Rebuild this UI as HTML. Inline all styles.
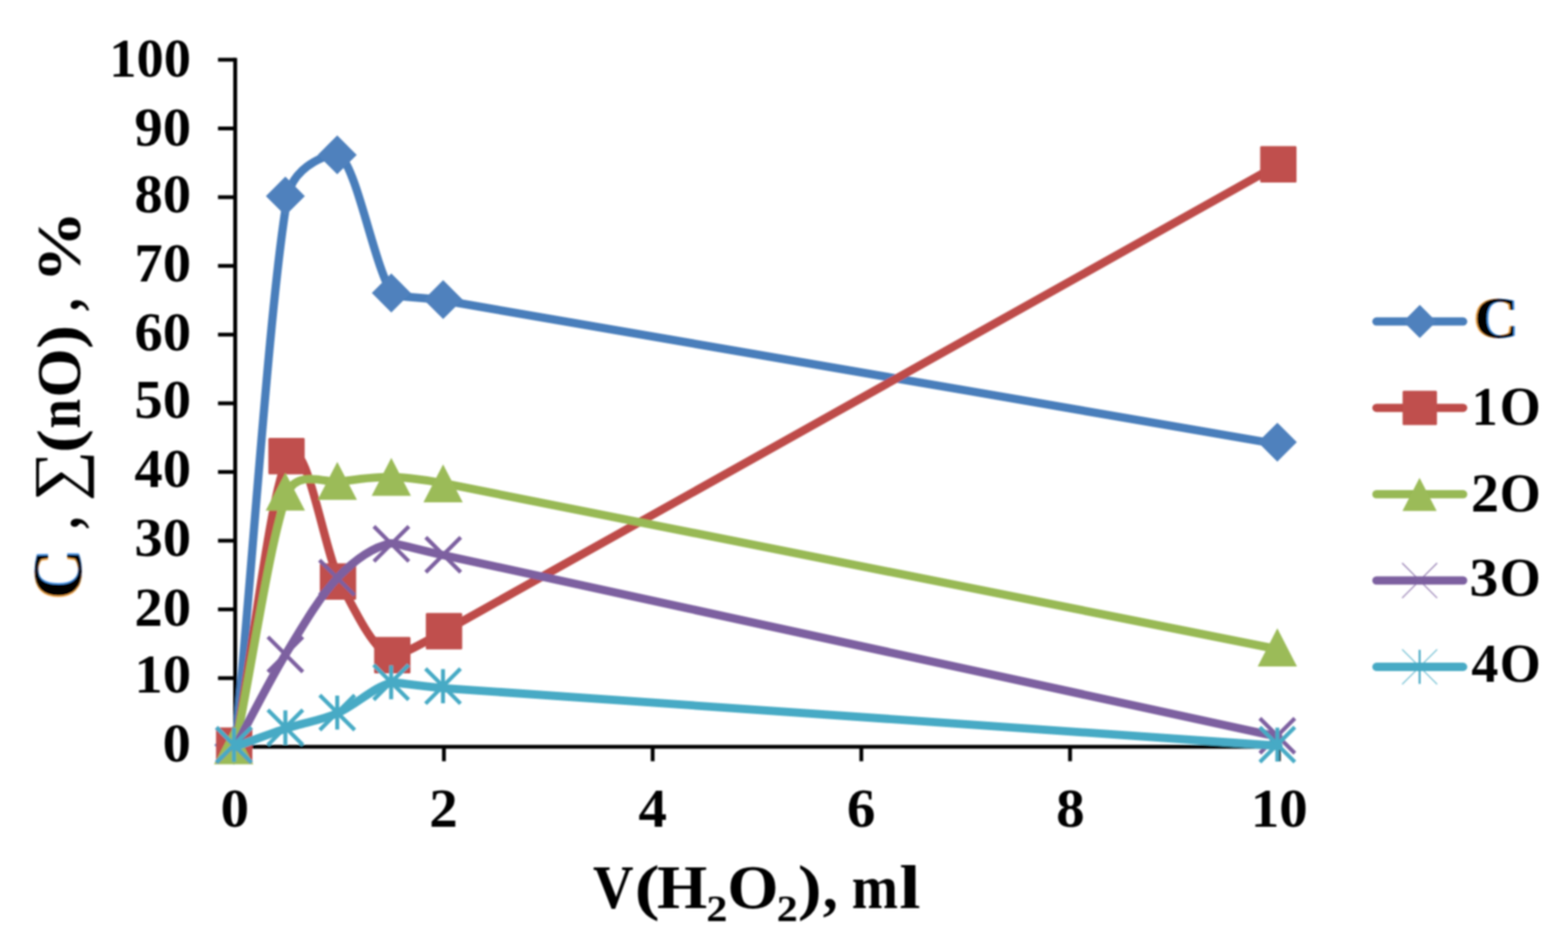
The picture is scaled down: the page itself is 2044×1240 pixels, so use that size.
<!DOCTYPE html>
<html lang="en"><head><meta charset="utf-8"><title>Chart</title>
<style>
html,body{margin:0;padding:0;background:#fff;}
body{width:2044px;height:1240px;overflow:hidden;}
svg{display:block;}
text{font-family:"Liberation Serif","DejaVu Serif",serif;font-weight:bold;fill:#000;}
.tick{font-size:71.2px;}
.leg{font-size:72px;}
</style></head><body>
<svg width="2044" height="1240" viewBox="0 0 2044 1240">
<defs><filter id="fr" x="-20%" y="-20%" width="140%" height="140%">
<feOffset in="SourceAlpha" dx="-2.2" dy="0" result="oL"/><feFlood flood-color="#f0a040" flood-opacity="0.9"/><feComposite in2="oL" operator="in" result="cL"/>
<feOffset in="SourceAlpha" dx="2.2" dy="0" result="oR"/><feFlood flood-color="#3f8fe8" flood-opacity="0.9"/><feComposite in2="oR" operator="in" result="cR"/>
<feMerge><feMergeNode in="cL"/><feMergeNode in="cR"/><feMergeNode in="SourceGraphic"/></feMerge></filter>
<filter id="soft" x="0" y="0" width="2044" height="1240" filterUnits="userSpaceOnUse"><feGaussianBlur stdDeviation="0.9"/></filter></defs>
<rect width="2044" height="1240" fill="#fff"/>
<g filter="url(#soft)">
<g stroke="#000" fill="none" stroke-linecap="butt">
<path stroke-width="5.1" d="M306.6,75.4 L306.6,976.3"/>
<path stroke-width="5.1" d="M304.1,973.8 L1669.5,973.8"/>
<path stroke-width="5.0" d="M284.2,973.8 L306.6,973.8"/>
<path stroke-width="5.0" d="M284.2,884.2 L306.6,884.2"/>
<path stroke-width="5.0" d="M284.2,794.6 L306.6,794.6"/>
<path stroke-width="5.0" d="M284.2,705.0 L306.6,705.0"/>
<path stroke-width="5.0" d="M284.2,615.4 L306.6,615.4"/>
<path stroke-width="5.0" d="M284.2,525.9 L306.6,525.9"/>
<path stroke-width="5.0" d="M284.2,436.3 L306.6,436.3"/>
<path stroke-width="5.0" d="M284.2,346.7 L306.6,346.7"/>
<path stroke-width="5.0" d="M284.2,257.1 L306.6,257.1"/>
<path stroke-width="5.0" d="M284.2,167.5 L306.6,167.5"/>
<path stroke-width="5.0" d="M284.2,77.9 L306.6,77.9"/>
<path stroke-width="5.0" d="M578.7,973.8 L578.7,992.6"/>
<path stroke-width="5.0" d="M850.8,973.8 L850.8,992.6"/>
<path stroke-width="5.0" d="M1122.8,973.8 L1122.8,992.6"/>
<path stroke-width="5.0" d="M1394.9,973.8 L1394.9,992.6"/>
<path stroke-width="5.0" d="M1667.0,973.8 L1667.0,992.6"/>
</g>
<text class="tick" x="212.1" y="992.8" textLength="36.8" lengthAdjust="spacingAndGlyphs">0</text>
<text class="tick" x="175.3" y="902.8" textLength="73.7" lengthAdjust="spacingAndGlyphs">10</text>
<text class="tick" x="175.3" y="815.7" textLength="73.7" lengthAdjust="spacingAndGlyphs">20</text>
<text class="tick" x="175.3" y="725.2" textLength="73.7" lengthAdjust="spacingAndGlyphs">30</text>
<text class="tick" x="175.3" y="635.0" textLength="73.7" lengthAdjust="spacingAndGlyphs">40</text>
<text class="tick" x="175.3" y="545.0" textLength="73.7" lengthAdjust="spacingAndGlyphs">50</text>
<text class="tick" x="175.3" y="457.2" textLength="73.7" lengthAdjust="spacingAndGlyphs">60</text>
<text class="tick" x="175.3" y="367.2" textLength="73.7" lengthAdjust="spacingAndGlyphs">70</text>
<text class="tick" x="175.3" y="277.2" textLength="73.7" lengthAdjust="spacingAndGlyphs">80</text>
<text class="tick" x="175.3" y="190.0" textLength="73.7" lengthAdjust="spacingAndGlyphs">90</text>
<text class="tick" x="142.6" y="99.9" textLength="106.3" lengthAdjust="spacingAndGlyphs">100</text>
<text class="tick" x="287.4" y="1077.8" textLength="37.2" lengthAdjust="spacingAndGlyphs">0</text>
<text class="tick" x="559.4" y="1077.8" textLength="37.2" lengthAdjust="spacingAndGlyphs">2</text>
<text class="tick" x="832.2" y="1077.8" textLength="37.2" lengthAdjust="spacingAndGlyphs">4</text>
<text class="tick" x="1104.0" y="1077.8" textLength="37.2" lengthAdjust="spacingAndGlyphs">6</text>
<text class="tick" x="1376.8" y="1077.8" textLength="37.2" lengthAdjust="spacingAndGlyphs">8</text>
<text class="tick" x="1630.4" y="1077.8" textLength="74.4" lengthAdjust="spacingAndGlyphs">10</text>
<text y="1184.2" style="font-size:80px"><tspan x="773.0" textLength="52.8" lengthAdjust="spacingAndGlyphs">V</tspan><tspan x="827.3" textLength="32.7" lengthAdjust="spacingAndGlyphs">(</tspan><tspan x="856.4" textLength="65.4" lengthAdjust="spacingAndGlyphs">H</tspan><tspan x="920.7" dy="16.6" textLength="27.5" lengthAdjust="spacingAndGlyphs" style="font-size:48.5px;">2</tspan><tspan x="948.0" dy="-16.6" textLength="66.9" lengthAdjust="spacingAndGlyphs">O</tspan><tspan x="1012.5" dy="16.6" textLength="27.4" lengthAdjust="spacingAndGlyphs" style="font-size:48.5px;">2</tspan><tspan x="1040.0" dy="-16.6" textLength="31.1" lengthAdjust="spacingAndGlyphs">)</tspan><tspan x="1072.6" textLength="19.6" lengthAdjust="spacingAndGlyphs">,</tspan><tspan x="1095.7"> </tspan><tspan x="1110.3" textLength="60.4" lengthAdjust="spacingAndGlyphs">m</tspan><tspan x="1172.2" textLength="27.8" lengthAdjust="spacingAndGlyphs">l</tspan></text>
<text transform="translate(105.6,0) rotate(-90)" y="0" filter="url(#fr)" style="font-size:90px"><tspan x="-781.1" textLength="64.6" lengthAdjust="spacingAndGlyphs">C</tspan></text>
<text transform="translate(103.5,0) rotate(-90)" y="0" style="font-size:81px"><tspan x="-720.0"> </tspan><tspan x="-689.3" textLength="15.2" lengthAdjust="spacingAndGlyphs">,</tspan><tspan x="-668.0"> </tspan><tspan x="-653.8" textLength="66.5" lengthAdjust="spacingAndGlyphs" style="font-size:87px;font-weight:normal;">∑</tspan><tspan x="-590.8" textLength="31.4" lengthAdjust="spacingAndGlyphs">(</tspan><tspan x="-558.7" textLength="38.5" lengthAdjust="spacingAndGlyphs">n</tspan><tspan x="-518.4" textLength="64.3" lengthAdjust="spacingAndGlyphs">O</tspan><tspan x="-455.0" textLength="31.5" lengthAdjust="spacingAndGlyphs">)</tspan><tspan x="-422.0"> </tspan><tspan x="-405.5" textLength="16.6" lengthAdjust="spacingAndGlyphs">,</tspan><tspan x="-383.0"> </tspan><tspan x="-369.0" textLength="94.4" lengthAdjust="spacingAndGlyphs">%</tspan></text>
<path d="M306.8,973.4 C329.5,734.4 352.1,384.8 374.9,256.4 C382.5,213.6 436.2,196.2 443.8,203.2 C466.6,224.3 489.0,351.4 511.6,382.9 C515.5,388.3 545.4,386.2 578.9,391.9 C771.4,424.7 1303.8,516.9 1666.3,579.3" fill="none" stroke="#4A7EBB" stroke-width="10.8" stroke-linecap="round" stroke-linejoin="round"/>
<path d="M304.8,946.1 L330.2,971.5 L304.8,996.9 L279.4,971.5Z" fill="#4F81BD"/>
<path d="M372.0,230.3 L397.4,255.7 L372.0,281.1 L346.6,255.7Z" fill="#4F81BD"/>
<path d="M439.6,176.5 L465.0,201.9 L439.6,227.3 L414.2,201.9Z" fill="#4F81BD"/>
<path d="M510.1,356.6 L535.5,382.0 L510.1,407.4 L484.7,382.0Z" fill="#4F81BD"/>
<path d="M577.7,365.3 L603.1,390.7 L577.7,416.1 L552.3,390.7Z" fill="#4F81BD"/>
<path d="M1665.1,551.2 L1690.5,576.6 L1665.1,602.0 L1639.7,576.6Z" fill="#4F81BD"/>
<path d="M306.8,973.4 C329.9,847.6 353.4,631.6 376.2,596.0 C399.0,560.4 421.4,716.4 443.6,759.9 C465.9,803.3 487.1,846.2 509.8,856.7 C513.9,858.5 545.9,841.6 580.0,822.7 C772.9,715.7 1304.8,417.0 1667.3,214.2" fill="none" stroke="#BE4B48" stroke-width="10.8" stroke-linecap="round" stroke-linejoin="round"/>
<rect x="281.6" y="948.5" width="47.4" height="47.4" rx="1.5" fill="#C0504D"/>
<rect x="349.8" y="571.0" width="47.4" height="47.4" rx="1.5" fill="#C0504D"/>
<rect x="416.9" y="734.6" width="47.4" height="47.4" rx="1.5" fill="#C0504D"/>
<rect x="487.7" y="830.6" width="47.4" height="47.4" rx="1.5" fill="#C0504D"/>
<rect x="555.1" y="799.3" width="47.4" height="47.4" rx="1.5" fill="#C0504D"/>
<rect x="1642.7" y="190.6" width="47.4" height="47.4" rx="1.5" fill="#C0504D"/>
<path d="M306.8,973.4 C329.5,863.2 352.4,700.4 374.8,642.9 C387.1,611.3 428.6,630.3 441.1,628.4 C463.9,624.9 488.7,621.5 511.7,621.9 C515.7,621.9 545.8,623.8 579.1,630.3 C771.6,667.8 1303.9,774.5 1666.3,846.6" fill="none" stroke="#98B954" stroke-width="10.8" stroke-linecap="round" stroke-linejoin="round"/>
<path d="M304.6,946.8 L330.2,996.4 L279.0,996.4Z" fill="#9BBB59"/>
<path d="M372.0,616.2 L397.6,665.8 L346.4,665.8Z" fill="#9BBB59"/>
<path d="M439.7,602.2 L465.3,651.8 L414.1,651.8Z" fill="#9BBB59"/>
<path d="M510.1,596.9 L535.7,646.5 L484.5,646.5Z" fill="#9BBB59"/>
<path d="M577.6,605.4 L603.2,655.0 L552.0,655.0Z" fill="#9BBB59"/>
<path d="M1665.1,819.3 L1690.7,868.9 L1639.5,868.9Z" fill="#9BBB59"/>
<path d="M306.8,973.4 C328.5,933.5 349.7,890.3 372.0,853.6 C394.2,816.8 417.5,777.1 440.5,752.9 C463.5,728.7 486.8,713.2 510.0,708.4 C514.2,707.6 544.7,716.6 579.5,724.2 C772.3,766.3 1304.2,882.0 1666.5,960.8" fill="none" stroke="#7D60A0" stroke-width="10.8" stroke-linecap="round" stroke-linejoin="round"/>
<path d="M282.2,948.7 L327.8,994.3 M327.8,948.7 L282.2,994.3" stroke="#7D60A0" stroke-width="5.2" fill="none"/>
<path d="M349.2,830.5 L394.8,876.1 M394.8,830.5 L349.2,876.1" stroke="#7D60A0" stroke-width="5.2" fill="none"/>
<path d="M416.5,730.4 L462.1,776.0 M462.1,730.4 L416.5,776.0" stroke="#7D60A0" stroke-width="5.2" fill="none"/>
<path d="M487.4,686.4 L533.0,732.0 M533.0,686.4 L487.4,732.0" stroke="#7D60A0" stroke-width="5.2" fill="none"/>
<path d="M555.0,700.6 L600.6,746.2 M600.6,700.6 L555.0,746.2" stroke="#7D60A0" stroke-width="5.2" fill="none"/>
<path d="M1642.3,936.6 L1687.9,982.2 M1687.9,936.6 L1642.3,982.2" stroke="#7D60A0" stroke-width="5.2" fill="none"/>
<path d="M306.8,973.4 C329.1,965.5 351.3,956.9 373.6,949.6 C395.9,942.3 417.7,939.6 440.6,929.6 C463.4,919.7 487.6,895.4 510.6,890.0 C514.7,889.1 544.7,894.8 578.9,897.3 C771.5,911.0 1304.0,947.4 1666.6,972.5" fill="none" stroke="#46AAC5" stroke-width="10.8" stroke-linecap="round" stroke-linejoin="round"/>
<path d="M282.2,948.4 L327.8,994.0 M327.8,948.4 L282.2,994.0 M305.0,949.0 L305.0,993.4" stroke="#46AAC5" stroke-width="5.2" fill="none"/>
<path d="M349.2,925.7 L394.8,971.3 M394.8,925.7 L349.2,971.3 M372.0,926.3 L372.0,970.7" stroke="#46AAC5" stroke-width="5.2" fill="none"/>
<path d="M416.8,906.3 L462.4,951.9 M462.4,906.3 L416.8,951.9 M439.6,906.9 L439.6,951.3" stroke="#46AAC5" stroke-width="5.2" fill="none"/>
<path d="M487.1,866.8 L532.7,912.4 M532.7,866.8 L487.1,912.4 M509.9,867.4 L509.9,911.8" stroke="#46AAC5" stroke-width="5.2" fill="none"/>
<path d="M554.7,871.9 L600.3,917.5 M600.3,871.9 L554.7,917.5 M577.5,872.5 L577.5,916.9" stroke="#46AAC5" stroke-width="5.2" fill="none"/>
<path d="M1642.3,948.1 L1687.9,993.7 M1687.9,948.1 L1642.3,993.7 M1665.1,948.7 L1665.1,993.1" stroke="#46AAC5" stroke-width="5.2" fill="none"/>
<path d="M1794.3,419.2 L1907.3,419.2" stroke="#4A7EBB" stroke-width="10.8" stroke-linecap="round"/>
<path d="M1850.8,397.6 L1872.4,419.2 L1850.8,440.8 L1829.2,419.2Z" fill="#4F81BD"/>
<text x="1921.6" y="440.0" filter="url(#fr)" style="font-size:76px" textLength="57.6" lengthAdjust="spacingAndGlyphs">C</text>
<path d="M1794.3,531.8 L1907.3,531.8" stroke="#BE4B48" stroke-width="10.8" stroke-linecap="round"/>
<rect x="1828.4" y="509.4" width="44.8" height="44.8" rx="1.5" fill="#C0504D"/>
<text class="leg" y="553.6"><tspan x="1918.4" textLength="33.8" lengthAdjust="spacingAndGlyphs">1</tspan><tspan x="1955.1" textLength="53.5" lengthAdjust="spacingAndGlyphs">O</tspan></text>
<path d="M1794.3,644.4 L1907.3,644.4" stroke="#98B954" stroke-width="10.8" stroke-linecap="round"/>
<path d="M1850.5,623.1 L1872.8,666.3 L1828.2,666.3Z" fill="#9BBB59"/>
<text class="leg" y="666.6"><tspan x="1917.4" textLength="36.5" lengthAdjust="spacingAndGlyphs">2</tspan><tspan x="1955.1" textLength="53.5" lengthAdjust="spacingAndGlyphs">O</tspan></text>
<path d="M1794.3,756.9 L1907.3,756.9" stroke="#7D60A0" stroke-width="10.8" stroke-linecap="round"/>
<g opacity="0.8"><path d="M1827.8,734.1 L1873.4,779.7 M1873.4,734.1 L1827.8,779.7" stroke="#8064A2" stroke-width="1.5" fill="none"/></g>
<text class="leg" y="776.6"><tspan x="1915.6" textLength="37.7" lengthAdjust="spacingAndGlyphs">3</tspan><tspan x="1955.1" textLength="53.5" lengthAdjust="spacingAndGlyphs">O</tspan></text>
<path d="M1794.3,869.5 L1907.3,869.5" stroke="#46AAC5" stroke-width="10.8" stroke-linecap="round"/>
<g opacity="0.8"><path d="M1827.8,846.7 L1873.4,892.3 M1873.4,846.7 L1827.8,892.3" stroke="#4BACC6" stroke-width="1.5" fill="none"/></g>
<path d="M1850.6,847.3 L1850.6,891.7" stroke="#46AAC5" stroke-width="2.6" fill="none"/>
<text class="leg" y="889.2"><tspan x="1917.9" textLength="35.2" lengthAdjust="spacingAndGlyphs">4</tspan><tspan x="1955.1" textLength="53.5" lengthAdjust="spacingAndGlyphs">O</tspan></text>
</g>
</svg></body></html>
